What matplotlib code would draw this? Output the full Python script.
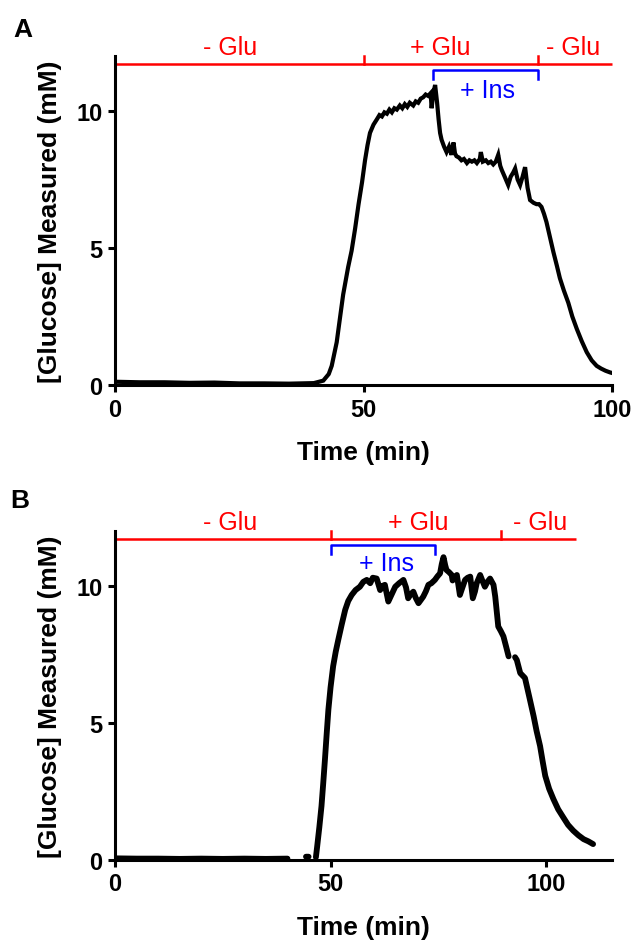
import numpy as np
import matplotlib.pyplot as plt

plt.rcParams['font.family'] = ['Liberation Sans', 'DejaVu Sans']

# panel A trace (time in min, glucose in mM)
time_a = [0, 5, 10, 15, 20, 25, 30, 35, 40, 41.9,
          43.0, 43.6, 44.6, 45.3, 45.9, 46.9, 47.6, 48.3, 49.0, 49.7,
          50.3, 50.8, 51.3, 52.0, 52.7, 53.2, 53.7, 54.2, 54.7, 55.2,
          55.7, 56.2, 56.7, 57.3, 57.8, 58.3, 58.8, 59.3, 60.0, 60.5,
          61.0, 61.5, 62.0, 62.5, 63.0, 63.5, 63.7, 64.0, 64.4, 64.8,
          65.1, 65.4, 65.7, 66.2, 66.7, 67.2, 67.7, 68.1, 68.4, 68.7,
          69.2, 69.7, 70.2, 70.8, 71.3, 71.8, 72.3, 72.8, 73.4, 73.6,
          74.0, 74.6, 75.1, 75.6, 76.1, 76.6, 77.1, 77.5, 77.8, 78.4,
          79.1, 79.6, 80.1, 80.5, 81.0, 81.5, 82.0, 82.5, 83.0, 83.5,
          84.2, 84.8, 85.3, 85.8, 86.3, 86.8, 87.5, 88.2, 88.9, 89.5,
          90.3, 91.2, 92.0, 92.9, 93.9, 94.9, 95.9, 96.9, 97.8, 98.7,
          99.6, 100]
glc_a = [0.12, 0.10, 0.10, 0.08, 0.09, 0.06, 0.06, 0.05, 0.07, 0.16,
         0.40, 0.70, 1.56, 2.50, 3.30, 4.30, 4.90, 5.70, 6.60, 7.40,
         8.20, 8.75, 9.20, 9.50, 9.70, 9.85, 9.80, 9.95, 9.90, 10.05,
         9.95, 10.10, 10.05, 10.20, 10.10, 10.25, 10.15, 10.30, 10.20, 10.35,
         10.30, 10.45, 10.50, 10.60, 10.55, 10.65, 10.10, 10.60, 10.95, 10.30,
         9.70, 9.20, 8.95, 8.70, 8.50, 8.70, 8.40, 8.85, 8.45, 8.35,
         8.30, 8.20, 8.25, 8.10, 8.20, 8.15, 8.20, 8.10, 8.25, 8.50,
         8.15, 8.20, 8.10, 8.15, 8.05, 8.15, 8.40, 8.00, 7.85, 7.60,
         7.30, 7.60, 7.75, 7.90, 7.50, 7.30, 7.60, 7.95, 7.20, 6.75,
         6.65, 6.60, 6.60, 6.50, 6.25, 5.95, 5.40, 4.85, 4.35, 3.90,
         3.45, 3.00, 2.50, 2.05, 1.60, 1.20, 0.90, 0.70, 0.60, 0.52,
         0.46, 0.44]

# panel B trace (nan = gap in recording)
time_b = [0, 5, 10, 15, 20, 25, 30, 35, 40, np.nan,
          44.3, 44.9, np.nan, 46.6, 46.9, 47.4, 47.9, 48.3, 48.7, 49.1,
          49.5, 50.0, 50.6, 51.2, 51.8, 52.6, 53.4, 54.1, 54.9, 55.8,
          56.8, 57.6, 58.4, 59.2, 59.8, 60.7, 61.5, 62.0, 62.6, 63.4,
          64.2, 65.0, 65.9, 66.9, 67.5, 68.0, 68.6, 69.2, 69.8, 70.4,
          71.0, 71.5, 72.1, 72.7, 73.4, 74.2, 74.8, 75.4, 75.8, 76.2,
          76.6, 76.9, 77.5, 78.1, 78.3, 78.8, 79.3, 80.0, 80.6, 81.2,
          81.8, 82.4, 83.0, 83.5, 83.9, 84.7, 85.2, 85.8, 86.4, 87.0,
          87.8, 88.2, 88.9, 89.5, 90.1, 90.7, 91.3, np.nan, 92.8, 93.2,
          94.0, 95.1, 96.1, 97.1, 97.8, 98.6, 99.2, 99.8, 100.7, 101.7,
          102.8, 104.0, 105.1, 106.3, 107.5, 108.7, 109.8, 110.9]
glc_b = [0.06, 0.05, 0.05, 0.04, 0.05, 0.04, 0.05, 0.04, 0.05, np.nan,
         0.12, 0.12, np.nan, 0.10, 0.50, 1.20, 1.97, 2.80, 3.67, 4.60,
         5.49, 6.30, 7.07, 7.60, 8.04, 8.60, 9.13, 9.45, 9.67, 9.85,
         9.97, 10.15, 10.22, 10.10, 10.30, 10.27, 9.85, 10.00, 10.04, 9.43,
         9.70, 9.97, 10.10, 10.22, 9.95, 9.55, 9.70, 9.79, 9.55, 9.37,
         9.50, 9.61, 9.80, 10.04, 10.10, 10.22, 10.35, 10.46, 10.80, 11.05,
         10.75, 10.58, 10.50, 10.40, 10.20, 10.30, 10.40, 9.67, 9.95, 10.22,
         10.30, 10.34, 9.55, 9.80, 10.10, 10.40, 10.20, 9.97, 10.15, 10.27,
         10.04, 9.61, 8.52, 8.35, 8.16, 7.80, 7.43, np.nan, 7.40, 7.30,
         6.82, 6.64, 5.95, 5.25, 4.70, 4.16, 3.60, 3.07, 2.60, 2.22,
         1.85, 1.55, 1.28, 1.07, 0.90, 0.76, 0.68, 0.58]

# treatment periods (min)
glu_a = [0, 50, 85, 100]
ins_a = [64, 85]
glu_labels = ['- Glu', '+ Glu', '- Glu']
glu_text_a = [23.2, 65.5, 92.2]
ins_text_a = 74.9

glu_b = [0, 50, 89.5, 107]
ins_b = [50, 74.3]
glu_text_b = [26.8, 70.4, 98.7]
ins_text_b = 62.9

fig = plt.figure(figsize=(6.34, 9.45), dpi=100)
ax_a = fig.add_axes([0.1814, 0.5915, 0.784, 0.348])
ax_b = fig.add_axes([0.1814, 0.0889, 0.784, 0.348])

ax_a.plot(time_a, glc_a, color='black', lw=3.0, solid_joinstyle='miter')
ax_b.plot(time_b, glc_b, color='black', lw=4.2, solid_capstyle='round',
          solid_joinstyle='round')


def annotate(ax, glu, ins, glu_x, ins_x, ins_y):
    y_red = 11.7
    ax.plot([glu[0], glu[-1]], [y_red, y_red], color='red', lw=1.8,
            clip_on=False, solid_capstyle='butt')
    for t in glu[1:-1]:
        ax.plot([t, t], [y_red, 12.0], color='red', lw=1.8, clip_on=False)
    ax.plot([ins[0], ins[0], ins[1], ins[1]], [11.15, 11.5, 11.5, 11.15],
            color='blue', lw=1.8, clip_on=False)
    for lab, x in zip(glu_labels, glu_x):
        ax.text(x, 12.09, lab, color='red', fontsize=18, ha='center',
                va='baseline', clip_on=False)
    ax.text(ins_x, ins_y, '+ Ins', color='blue', fontsize=18, ha='center',
            va='baseline', clip_on=False)


annotate(ax_a, glu_a, ins_a, glu_text_a, ins_text_a, 10.5)
annotate(ax_b, glu_b, ins_b, glu_text_b, ins_text_b, 10.58)

for ax, xmax in [(ax_a, 100), (ax_b, 115.3)]:
    ax.set_xlim(0, xmax)
    ax.set_ylim(0, 12)
    ax.set_xticks([0, 50, 100])
    ax.set_yticks([0, 5, 10])
    ax.spines['top'].set_visible(False)
    ax.spines['right'].set_visible(False)
    ax.spines['left'].set_linewidth(2.2)
    ax.spines['bottom'].set_linewidth(2.2)
    ax.tick_params(direction='out', length=5, width=2.2, labelsize=17, pad=4)
    for lab in ax.get_xticklabels() + ax.get_yticklabels():
        lab.set_fontweight('bold')
    ax.set_xlabel('Time (min)', fontsize=19, fontweight='bold', labelpad=14)
    ax.set_ylabel('[Glucose] Measured (mM)', fontsize=19, fontweight='bold',
                  labelpad=10)

fig.text(13 / 634, 1 - 37 / 945, 'A', fontsize=19, fontweight='bold',
         va='baseline')
fig.text(10 / 634, 1 - 508 / 945, 'B', fontsize=19, fontweight='bold',
         va='baseline')

fig.savefig('out.png', dpi=100)
